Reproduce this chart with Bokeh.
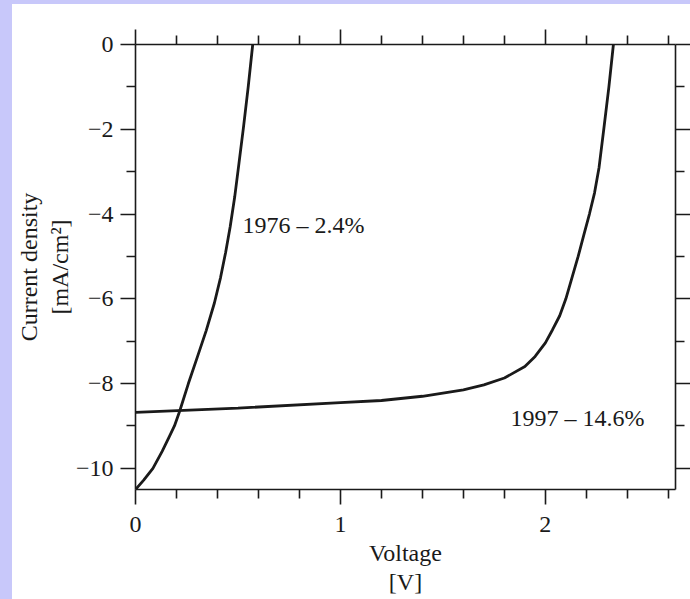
from bokeh.plotting import figure
from bokeh.models import FixedTicker, LinearAxis, Label, Range1d, Spacer
from bokeh.layouts import row, column
from bokeh.embed import file_html
from bokeh.resources import INLINE

# J-V curves of two solar cells (voltage in V, current density in mA/cm^2)
v_1976 = [0.0, 0.04, 0.085, 0.13, 0.165, 0.19, 0.215, 0.258, 0.3, 0.345,
          0.385, 0.415, 0.44, 0.462, 0.484, 0.505, 0.527, 0.55, 0.572]
j_1976 = [-10.5, -10.28, -10.0, -9.6, -9.25, -9.0, -8.66, -8.0, -7.4, -6.75,
          -6.1, -5.5, -4.9, -4.3, -3.6, -2.8, -1.95, -1.0, 0.0]

v_1997 = [0.0, 0.5, 1.0, 1.2, 1.4, 1.6, 1.7, 1.8, 1.9, 1.95, 2.0, 2.035,
          2.07, 2.1, 2.13, 2.16, 2.19, 2.215, 2.24, 2.262, 2.285, 2.31, 2.332]
j_1997 = [-8.68, -8.58, -8.45, -8.40, -8.30, -8.15, -8.03, -7.87, -7.6, -7.36,
          -7.04, -6.73, -6.4, -6.0, -5.5, -5.0, -4.45, -4.0, -3.5, -2.9,
          -2.0, -1.0, 0.0]

curve_names = ["1976 – 2.4%", "1997 – 14.6%"]

x_tick_values = [0, 1, 2]
x_tick_labels = ["0", "1", "2"]
x_minor_values = [0.2, 0.4, 0.6, 0.8, 1.2, 1.4, 1.6, 1.8, 2.2, 2.4, 2.6]
y_tick_values = [0, -2, -4, -6, -8, -10]
y_tick_labels = ["0", "\u22122", "\u22124", "\u22126", "\u22128", "\u221210"]
y_minor_values = [-1, -3, -5, -7, -9]

x_title = "Voltage\n[V]"
y_title = "Current density\n[mA/cm\u00b2]"

INK = "#1a1a1a"
PAGE = "#ffffff"
EDGE = "#c8c8fa"
SERIF = "Liberation Serif"

p = figure(width=678, height=595,
           x_range=Range1d(0, 2.635), y_range=Range1d(-10.5, 0),
           output_backend="svg", toolbar_location=None,
           min_border_left=123, min_border_right=10,
           min_border_top=40, min_border_bottom=110,
           background_fill_color=PAGE, border_fill_color=PAGE,
           outline_line_color=None)
p.grid.visible = False

x_ticker = FixedTicker(ticks=x_tick_values, minor_ticks=x_minor_values)
y_ticker = FixedTicker(ticks=y_tick_values, minor_ticks=y_minor_values)

bottom = p.below[0]
left = p.left[0]
bottom.ticker = x_ticker
left.ticker = y_ticker

top = LinearAxis(ticker=x_ticker)
right = LinearAxis(ticker=y_ticker)
p.add_layout(top, "above")
p.add_layout(right, "right")

for ax in [bottom, left, top, right]:
    ax.axis_line_color = INK
    ax.axis_line_width = 1.6
    ax.major_tick_line_color = INK
    ax.minor_tick_line_color = INK
    ax.major_tick_line_width = 1.6
    ax.minor_tick_line_width = 1.6
    ax.major_tick_in = 0
    ax.minor_tick_in = 0
    ax.major_tick_out = 15
    ax.minor_tick_out = 9
    ax.major_label_text_font = SERIF
    ax.major_label_text_font_size = "24px"
    ax.major_label_text_color = INK
    ax.axis_label_text_font = SERIF
    ax.axis_label_text_font_size = "24px"
    ax.axis_label_text_font_style = "normal"
    ax.axis_label_text_color = INK

bottom.major_label_overrides = dict(zip(x_tick_values, x_tick_labels))
left.major_label_overrides = dict(zip(y_tick_values, y_tick_labels))
bottom.major_label_standoff = 12
left.major_label_standoff = 7

bottom.axis_label = x_title
bottom.axis_label_text_line_height = 1.15
bottom.axis_label_standoff = 5
left.axis_label = y_title
left.axis_label_text_line_height = 1.2
left.axis_label_standoff = 0

# frame-only axes on top and right: ticks, no numbers
for ax, vals in [(top, x_tick_values), (right, y_tick_values)]:
    ax.major_label_overrides = {v: "" for v in vals}
    ax.major_label_text_font_size = "0px"
    ax.major_label_standoff = 0
    ax.axis_label_standoff = 0
right.major_label_standoff = -5

p.line(v_1976, j_1976, line_color=INK, line_width=2.8)
p.line(v_1997, j_1997, line_color=INK, line_width=2.8)

# curve annotations
for (x, y), name in zip([(0.522, -4.25), (1.83, -8.81)], curve_names):
    p.add_layout(Label(x=x, y=y, text=name, text_font=SERIF,
                       text_font_size="24px", text_color=INK,
                       text_align="left", text_baseline="middle"))

# lavender page edge along the left and top
left_strip = Spacer(width=12, height=599, styles={"background-color": EDGE})
top_strip = Spacer(width=678, height=4, styles={"background-color": EDGE})
page = row(left_strip, column(top_strip, p))

open("out.html", "w").write(file_html(page, INLINE))
